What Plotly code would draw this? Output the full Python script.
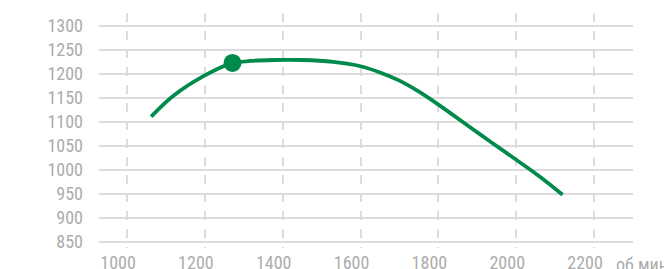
import plotly.graph_objects as go

rpm = [1062, 1120, 1200, 1269, 1317, 1376, 1450, 1530, 1600, 1650, 1700, 1750, 1800, 1900, 2000, 2060, 2119]
torque = [1111, 1155, 1197, 1222, 1227, 1229, 1229, 1225, 1216, 1203, 1186, 1163, 1136, 1078, 1021, 986, 948]
peak_rpm = [1271]
peak_torque = [1223]
x_ticks = [1000, 1200, 1400, 1600, 1800, 2000, 2200]
y_ticks = [850, 900, 950, 1000, 1050, 1100, 1150, 1200, 1250, 1300]
x_unit = "об мин"

GREEN = "#008a4b"
GRID = "#dcdcdc"
TXT = "#acacac"
FONT = "Roboto Condensed, Liberation Sans, sans-serif"

fig = go.Figure()
fig.add_trace(go.Scatter(x=rpm, y=torque, mode="lines",
                         line=dict(color=GREEN, width=3.8, shape="spline", smoothing=1.0),
                         hoverinfo="skip", showlegend=False))
fig.add_trace(go.Scatter(x=peak_rpm, y=peak_torque, mode="markers",
                         marker=dict(color=GREEN, size=18),
                         showlegend=False))

fig.update_layout(
    width=672, height=269,
    margin=dict(l=91, r=47, t=5, b=29),
    paper_bgcolor="white", plot_bgcolor="white",
    font=dict(family=FONT, size=18, color=TXT),
    xaxis=dict(range=[928, 2300], tickvals=x_ticks, showgrid=True, gridcolor=GRID,
               gridwidth=2, griddash="dash", zeroline=False, showline=False,
               ticks="", automargin=False, ticklabelstandoff=2, ticklabelshift=-9,
               tickfont=dict(family=FONT, size=18, color=TXT)),
    yaxis=dict(range=[837, 1327], tickvals=y_ticks, showgrid=True, gridcolor=GRID,
               gridwidth=2, zeroline=False, showline=False, ticks="", automargin=False,
               ticklabelstandoff=15, tickfont=dict(family=FONT, size=18, color=TXT)),
    annotations=[dict(text=x_unit, xref="paper", yref="paper", x=1.0, y=0,
                      xanchor="left", yanchor="top", xshift=-19, yshift=-4,
                      showarrow=False, font=dict(family=FONT, size=18, color=TXT))],
)
fig.write_html("out.html")
